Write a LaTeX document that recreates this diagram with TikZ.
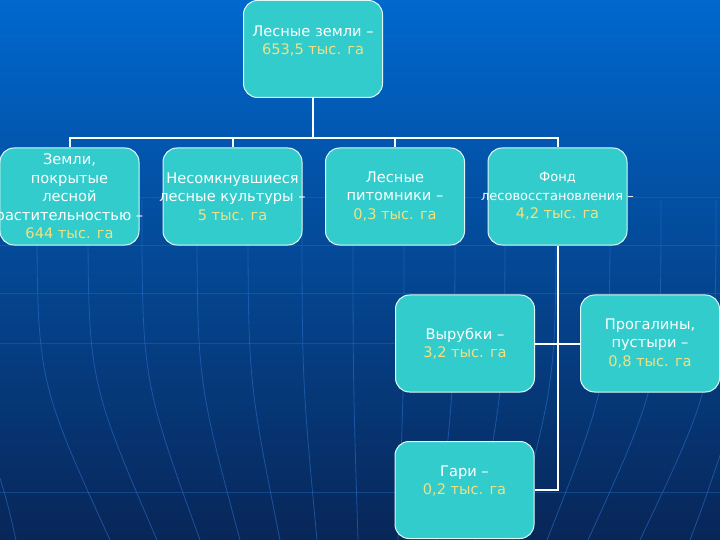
\documentclass[tikz,border=0pt]{standalone}
\usepackage{fontspec}
\setmainfont{DejaVu Sans}
\usepackage{tikz}
\usetikzlibrary{positioning}
\definecolor{SlideTop}{RGB}{0,104,206}
\definecolor{SlideMid}{RGB}{3,76,165}
\definecolor{SlideBot}{RGB}{8,38,88}
\definecolor{GlobeLine}{RGB}{40,110,200}
\definecolor{BoxTeal}{RGB}{51,204,204}
\definecolor{NumYellow}{RGB}{240,225,130}
\newcommand{\numline}[1]{\textcolor{NumYellow}{#1}}
\newcommand{\fundfont}{\fontsize{13bp}{17.5bp}\selectfont}

\begin{document}
\begin{tikzpicture}[x=1bp, y=-1bp,
          card/.style={rectangle, rounded corners=14bp, minimum width=139bp,
                       minimum height=97bp, inner sep=0pt, fill=BoxTeal,
                       draw=white!85!BoxTeal, line width=1bp},
          txt/.style={align=center, text=white, inner sep=0pt,
                      font=\fontsize{14.6bp}{18.5bp}\selectfont},
          link/.style={draw=white, line width=2bp},
          globe/.style={draw=GlobeLine, opacity=0.6, line width=0.8bp}
        ]
        \useasboundingbox (0,0) rectangle (720,540);
        % slide background with globe lines
        \shade[top color=SlideTop, middle color=SlideMid, bottom color=SlideBot]
              (0,0) rectangle (720,540);
        \foreach \y in {197, 245, 293, 343, 492} {
          \draw[globe, opacity=0.4] (0,\y) -- (720,\y);
        }
        \foreach \xa/\xb in {37/110, 88/157, 142/200, 197/240, 248/280, 302/317,
                             353/358, 404/398, 455/437, 505/475, 556/512,
                             610/547, 661/588, 716/640} {
          \draw[globe] (\xa,200) .. controls (\xa,380) .. (\xb,540);
        }
        \draw[globe] (0,478) .. controls (8,505) .. (16,540);
        \draw[globe] (720,455) .. controls (705,500) .. (690,540);

        % boxes
        \node[card] (lesa)  at (313,49)      {};
        \node[card] (pokr)  at (69.5,196.5)  {};
        \node[card] (nesom) at (232.5,196.5) {};
        \node[card] (pitom) at (395,196.5)   {};
        \node[card] (fond)  at (557.5,196.5) {};
        \node[card] (vyr)   at (465,343.5)   {};
        \node[card] (prog)  at (650,343.5)   {};
        \node[card] (gari)  at (464.5,490)   {};

        % connectors
        \draw[link] (lesa.south) -- ++(0,40) coordinate (bar);
        \foreach \n in {pokr, nesom, pitom, fond} {
          \draw[link] (bar) -| (\n.north);
        }
        \draw[link] (fond.south) |- (gari.east);
        \draw[link] (vyr.east) -- (prog.west);

        % texts
        \node[txt] (lesaT) at ([yshift=8bp]lesa.center)
              {Лесные земли –\\\numline{653,5 тыс. га}};
        \node[txt] (pokrT) at (pokr.center)
              {Земли,\\покрытые\\лесной\\растительностью –\\\numline{644 тыс. га}};
        \node[txt] (nesomT) at (nesom.center)
              {Несомкнувшиеся\\лесные культуры –\\\numline{5 тыс. га}};
        \node[txt] (pitomT) at (pitom.center)
              {Лесные\\питомники –\\\numline{0,3 тыс. га}};
        \node[txt] (fondT) at (fond.center)
              {\fundfont Фонд\\\fundfont лесовосстановления –\\\numline{4,2 тыс. га}};
        \node[txt] (vyrT) at (vyr.center)
              {Вырубки –\\\numline{3,2 тыс. га}};
        \node[txt] (progT) at (prog.center)
              {Прогалины,\\пустыри –\\\numline{0,8 тыс. га}};
        \node[txt] (gariT) at ([yshift=9bp]gari.center)
              {Гари –\\\numline{0,2 тыс. га}};
      \end{tikzpicture}
\end{document}
